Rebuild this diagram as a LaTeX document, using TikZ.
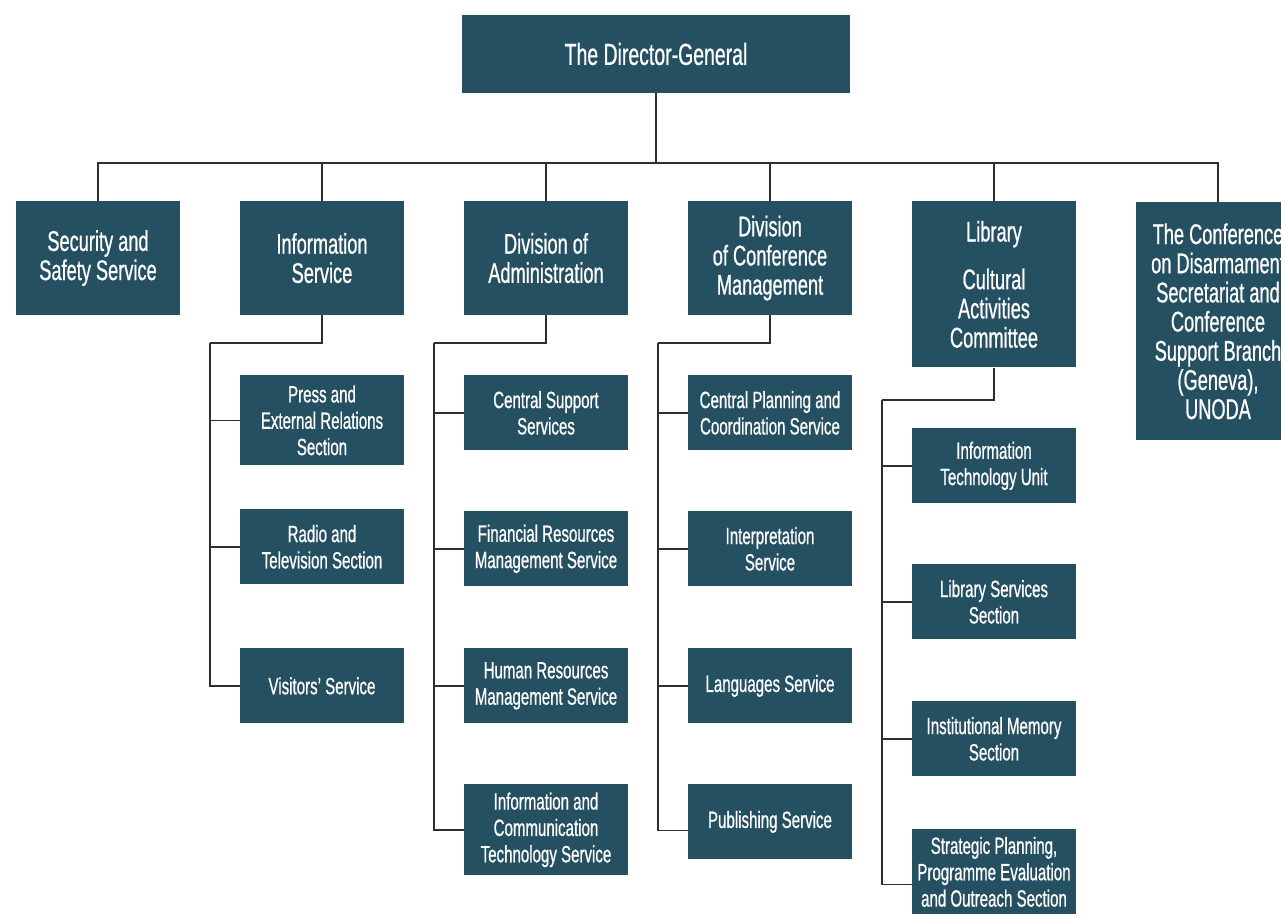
\documentclass[tikz,border=0pt]{standalone}
\usepackage{fontspec}
\setmainfont{Liberation Sans}[FakeStretch=0.64,FakeBold=0.7]
\usetikzlibrary{positioning}
\definecolor{boxteal}{HTML}{245062}
\definecolor{wire}{HTML}{2E2E2E}

\begin{document}
\begin{tikzpicture}[x=0.02cm,y=-0.02cm,
  link/.style={draw=wire,line width=0.75pt},
  unit/.style={fill=boxteal,text=white,align=center,inner sep=0pt,minimum width=3.28cm},
  head/.style={unit,minimum width=7.78cm,minimum height=1.56cm,font=\fontsize{17.3}{20}\selectfont},
  dept/.style={unit,anchor=north,minimum height=2.27cm,font=\fontsize{16.2}{16.6}\selectfont},
  sect/.style={unit,anchor=north,minimum height=1.5cm,font=\fontsize{13.4}{15}\selectfont}]
  \clip (0,0) rectangle (1281,916);
  \node[head] (dg) at (656,54) {The Director-General};

  \node[dept] (sec) at (98,201) {Security and\\Safety Service};
  \node[dept] (info) at (322,201) {Information\\Service};
  \node[dept] (adm) at (546,201) {Division of\\Administration};
  \node[dept] (dcm) at (770,201) {Division\\of Conference\\Management};
  \node[dept,minimum height=3.32cm] (lib) at (994,201) {Library\\[0.65em]Cultural\\Activities\\Committee};
  \node[dept,minimum height=4.76cm] (cd) at (1218,202) {The Conference\\on Disarmament\\Secretariat and\\Conference\\Support Branch\\(Geneva),\\UNODA};

  \node[sect,minimum height=1.8cm] (press) at (322,375) {Press and\\External Relations\\Section};
  \node[sect] (radio) at (322,509) {Radio and\\Television Section};
  \node[sect] (visit) at (322,648) {Visitors' Service};

  \node[sect] (css) at (546,375) {Central Support\\Services};
  \node[sect] (frms) at (546,511) {Financial Resources\\Management Service};
  \node[sect] (hrms) at (546,648) {Human Resources\\Management Service};
  \node[sect,minimum height=1.82cm] (ict) at (546,784) {Information and\\Communication\\Technology Service};

  \node[sect] (cpcs) at (770,375) {Central Planning and\\Coordination Service};
  \node[sect] (interp) at (770,511) {Interpretation\\Service};
  \node[sect] (lang) at (770,648) {Languages Service};
  \node[sect] (pub) at (770,784) {Publishing Service};

  \node[sect] (itu) at (994,428) {Information\\Technology Unit};
  \node[sect] (lss) at (994,564) {Library Services\\Section};
  \node[sect] (ims) at (994,701) {Institutional Memory\\Section};
  \node[sect,minimum height=1.7cm] (spe) at (994,829) {Strategic Planning,\\Programme Evaluation\\and Outreach Section};

  \coordinate (bus) at (656,163);
  \coordinate (infoL) at (210,343);
  \coordinate (admL) at (434,343);
  \coordinate (dcmL) at (658,343);
  \coordinate (libL) at (882,400);

  \draw[link] (dg) -- (bus);
  \foreach \n in {sec,info,adm,dcm,lib,cd} \draw[link] (bus) -| (\n.north);
  \draw[link] (info.south) |- (infoL);
  \foreach \n in {press,radio,visit} \draw[link] (infoL) |- (\n.west);
  \draw[link] (adm.south) |- (admL);
  \foreach \n in {css,frms,hrms,ict} \draw[link] (admL) |- (\n.west);
  \draw[link] (dcm.south) |- (dcmL);
  \foreach \n in {cpcs,interp,lang} \draw[link] (dcmL) |- (\n.west);
  \draw[link] (dcmL) |- ([yshift=-0.17cm]pub.west);
  \draw[link] (lib.south) |- (libL);
  \foreach \n in {itu,lss,ims} \draw[link] (libL) |- (\n.west);
  \draw[link] (libL) |- ([yshift=-0.25cm]spe.west);
\end{tikzpicture}
\end{document}
